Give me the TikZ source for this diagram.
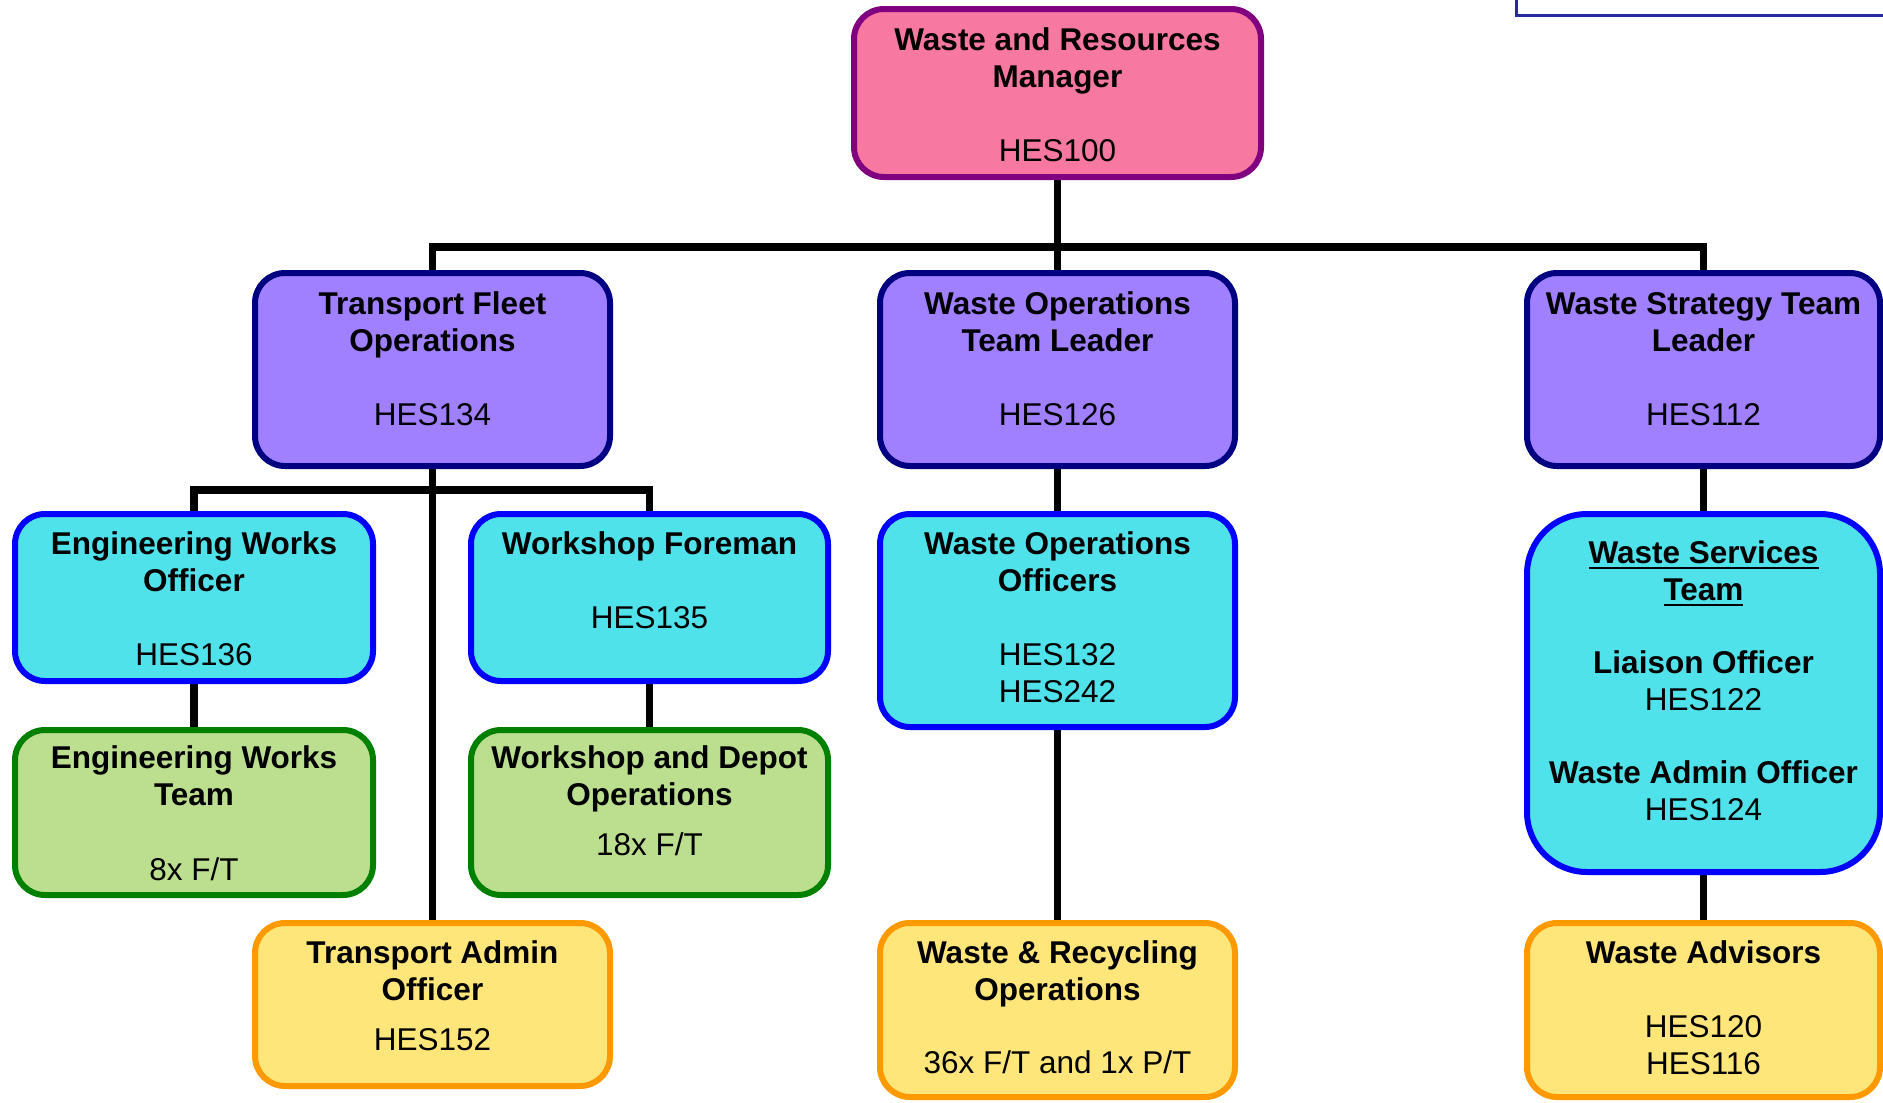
\documentclass[tikz,border=0pt]{standalone}
\usepackage{fontspec}
\setmainfont{Liberation Sans}
\usetikzlibrary{backgrounds}
\definecolor{pinkF}{RGB}{247,120,161}
\definecolor{purpB}{RGB}{128,0,128}
\definecolor{lavF}{RGB}{160,128,255}
\definecolor{navyB}{RGB}{0,0,128}
\definecolor{cyanF}{RGB}{80,226,235}
\definecolor{blueB}{RGB}{0,0,255}
\definecolor{greenF}{RGB}{187,223,143}
\definecolor{greenB}{RGB}{0,128,0}
\definecolor{yelF}{RGB}{255,230,122}
\definecolor{orB}{RGB}{255,153,0}
\definecolor{keyB}{RGB}{40,40,160}
\newcommand\boxtext[3]{\parbox[c][#2pt][t]{#1pt}{\centering\fontsize{31.5}{37}\selectfont #3\par}}
\newcommand\firstline[1]{\rule{0pt}{#1pt}}
\newcommand\ulx[1]{\setbox0\hbox{#1}\rlap{\rule[-6pt]{\wd0}{2.2pt}}\box0}
\tikzset{
  orgbox/.style={rectangle, rounded corners=30pt, line width=6pt, inner sep=0pt, outer sep=0pt},
  mgrbox/.style={orgbox, fill=pinkF, draw=purpB},
  leadbox/.style={orgbox, fill=lavF, draw=navyB},
  offbox/.style={orgbox, fill=cyanF, draw=blueB},
  teambox/.style={orgbox, fill=greenF, draw=greenB},
  staffbox/.style={orgbox, fill=yelF, draw=orB},
  conn/.style={draw=black, line width=7.5pt, line join=miter},
  keyline/.style={draw=keyB, line width=3pt}
}
\begin{document}
\begin{tikzpicture}[x=1pt,y=-1pt]
\clip (0,0) rectangle (1883,1103);
% partial legend box at top right
\coordinate (keyA) at (1516,-20);
\coordinate (keyB) at (1516,15);
\coordinate (keyC) at (1900,15);
\draw[keyline] (keyA) -- (keyB) -- (keyC);

\node[mgrbox] (top) at (1057.5,93) {\boxtext{407}{168}{\firstline{41}\textbf{Waste and Resources}\\\textbf{Manager}\\[37pt]HES100}};

\node[leadbox] (tf) at (432.5,369.5) {\boxtext{355}{193}{\firstline{41}\textbf{Transport Fleet}\\\textbf{Operations}\\[37pt]HES134}};
\node[leadbox] (wotl) at (1057.5,369.5) {\boxtext{355}{193}{\firstline{41}\textbf{Waste Operations}\\\textbf{Team Leader}\\[37pt]HES126}};
\node[leadbox] (wstl) at (1703.5,369.5) {\boxtext{353}{193}{\firstline{41}\textbf{Waste Strategy Team}\\\textbf{Leader}\\[37pt]HES112}};

\node[offbox] (ewo) at (194,597.5) {\boxtext{358}{167}{\firstline{40}\textbf{Engineering Works}\\\textbf{Officer}\\[37pt]HES136}};
\node[offbox] (wf) at (649.5,597.5) {\boxtext{357}{167}{\firstline{40}\textbf{Workshop Foreman}\\[37pt]HES135}};
\node[offbox] (woo) at (1057.5,620.5) {\boxtext{355}{213}{\firstline{40}\textbf{Waste Operations}\\\textbf{Officers}\\[37pt]HES132\\HES242}};
\node[offbox, rounded corners=60pt] (wst) at (1703.5,693) {\boxtext{353}{358}{\firstline{49}\textbf{\ulx{Waste Services}}\\\textbf{\ulx{Team}}\\[36pt]\textbf{Liaison Officer}\\HES122\\[36pt]\textbf{Waste Admin Officer}\\HES124}};

\node[teambox] (ewt) at (194,812.5) {\boxtext{358}{165}{\firstline{38}\textbf{Engineering Works}\\\textbf{Team}\\[38pt]8x F/T}};
\node[teambox] (wdo) at (649.5,812.5) {\boxtext{357}{165}{\firstline{38}\textbf{Workshop and Depot}\\\textbf{Operations}\\[13pt]18x F/T}};

\node[staffbox] (ta) at (432.5,1004.5) {\boxtext{355}{163}{\firstline{40}\textbf{Transport Admin}\\\textbf{Officer}\\[13pt]HES152}};
\node[staffbox] (wr) at (1057.5,1010) {\boxtext{355}{174}{\firstline{40}\textbf{Waste \& Recycling}\\\textbf{Operations}\\[36pt]36x F/T and 1x P/T}};
\node[staffbox] (wa) at (1703.5,1010) {\boxtext{353}{174}{\firstline{40}\textbf{Waste Advisors}\\[37pt]HES120\\HES116}};

\begin{scope}[on background layer]
\draw[conn] (top.south) -- (wotl.north);
\draw[conn] (tf.north) -- (tf.north |- 0,247) -| (wstl.north);
\draw[conn] (tf.south) -- (ta.north);
\draw[conn] (ewo.north) -- (ewo.north |- 0,490) -| (wf.north);
\draw[conn] (ewo.south) -- (ewt.north);
\draw[conn] (wf.south) -- (wdo.north);
\draw[conn] (wotl.south) -- (woo.north);
\draw[conn] (woo.south) -- (wr.north);
\draw[conn] (wstl.south) -- (wst.north);
\draw[conn] (wst.south) -- (wa.north);
\end{scope}
\end{tikzpicture}
\end{document}
